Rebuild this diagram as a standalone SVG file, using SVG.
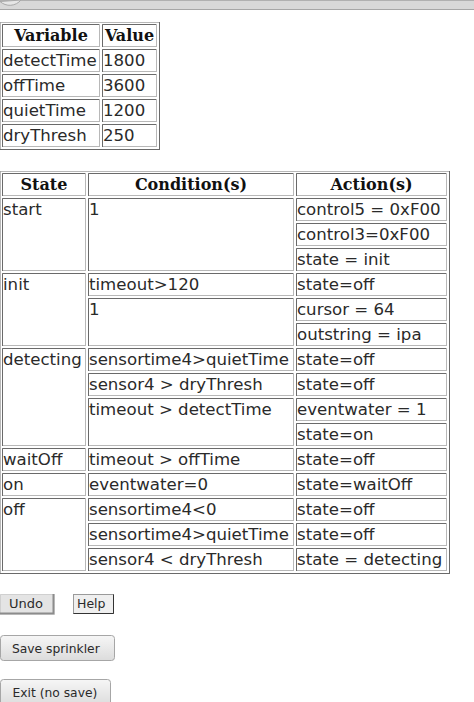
<svg xmlns="http://www.w3.org/2000/svg" width="474" height="702" viewBox="0 0 474 702">
<style>
.c{fill:none;stroke:#b8b8b8;stroke-width:1}
.d{fill:none;stroke:#6a6a6a;stroke-width:1}
.t{font-family:"DejaVu Sans",sans-serif;font-size:16.6px;fill:#2a2a2a}
.h{font-family:"DejaVu Serif",serif;font-weight:bold;font-size:16px;fill:#111;text-anchor:middle}
.b{font-family:"DejaVu Sans",sans-serif;fill:#2a2a2a}
</style>
<defs>
<linearGradient id="g" x1="0" y1="0" x2="0" y2="1">
<stop offset="0" stop-color="#f6f6f6"/>
<stop offset="1" stop-color="#dcdcdc"/>
</linearGradient>
</defs>
<rect width="474" height="702" fill="#fff"/>
<g id="topbar">
<rect x="0" y="0" width="474" height="9.5" fill="#d8d8d8"/>
<line x1="0" y1="0.5" x2="474" y2="0.5" stroke="#b0b0b0"/>
<line x1="0" y1="9.5" x2="474" y2="9.5" stroke="#a6a6a6"/>
<path d="M0 1.5 A14.5 14.5 0 0 0 21 0 Z" fill="#e6e6e6" stroke="#a8a8a8"/>
</g>

<g id="vartable">
<rect x="0.5" y="22.5" width="159" height="127" class="d"/>
<path d="M0.5 149 V22.5 H159" class="c"/>
<g id="v-h1"><rect x="2.5" y="24.5" width="97" height="22" class="c"/><path d="M2.5 47 V24.5 H99" class="d"/><text x="51" y="41" class="h">Variable</text></g>
<g id="v-h2"><rect x="102.5" y="24.5" width="54" height="22" class="c"/><path d="M102.5 47 V24.5 H156" class="d"/><text x="129.5" y="41" class="h">Value</text></g>
<g id="v-r1a"><rect x="2.5" y="49.5" width="97" height="22" class="c"/><path d="M2.5 72 V49.5 H99" class="d"/><text x="3" y="66" class="t">detectTime</text></g>
<g id="v-r1b"><rect x="102.5" y="49.5" width="54" height="22" class="c"/><path d="M102.5 72 V49.5 H156" class="d"/><text x="103" y="66" class="t">1800</text></g>
<g id="v-r2a"><rect x="2.5" y="74.5" width="97" height="22" class="c"/><path d="M2.5 97 V74.5 H99" class="d"/><text x="3" y="91" class="t">offTime</text></g>
<g id="v-r2b"><rect x="102.5" y="74.5" width="54" height="22" class="c"/><path d="M102.5 97 V74.5 H156" class="d"/><text x="103" y="91" class="t">3600</text></g>
<g id="v-r3a"><rect x="2.5" y="99.5" width="97" height="22" class="c"/><path d="M2.5 122 V99.5 H99" class="d"/><text x="3" y="116" class="t">quietTime</text></g>
<g id="v-r3b"><rect x="102.5" y="99.5" width="54" height="22" class="c"/><path d="M102.5 122 V99.5 H156" class="d"/><text x="103" y="116" class="t">1200</text></g>
<g id="v-r4a"><rect x="2.5" y="124.5" width="97" height="22" class="c"/><path d="M2.5 147 V124.5 H99" class="d"/><text x="3" y="141" class="t">dryThresh</text></g>
<g id="v-r4b"><rect x="102.5" y="124.5" width="54" height="22" class="c"/><path d="M102.5 147 V124.5 H156" class="d"/><text x="103" y="141" class="t">250</text></g>
</g>

<g id="statetable">
<rect x="0.5" y="171.5" width="449" height="402" class="d"/>
<path d="M0.5 573 V171.5 H449" class="c"/>
<g id="s-h1"><rect x="2.5" y="173.5" width="83" height="22" class="c"/><path d="M2.5 196 V173.5 H85" class="d"/><text x="44" y="190" class="h">State</text></g>
<g id="s-h2"><rect x="88.5" y="173.5" width="205" height="22" class="c"/><path d="M88.5 196 V173.5 H293" class="d"/><text x="191" y="190" class="h">Condition(s)</text></g>
<g id="s-h3"><rect x="296.5" y="173.5" width="150" height="22" class="c"/><path d="M296.5 196 V173.5 H446" class="d"/><text x="371.5" y="190" class="h">Action(s)</text></g>

<g id="st-start"><rect x="2.5" y="198.5" width="83" height="72" class="c"/><path d="M2.5 271 V198.5 H85" class="d"/><text x="3" y="214.5" class="t">start</text></g>
<g id="c-start"><rect x="88.5" y="198.5" width="205" height="72" class="c"/><path d="M88.5 271 V198.5 H293" class="d"/><text x="89" y="214.5" class="t">1</text></g>
<g id="a-0"><rect x="296.5" y="198.5" width="150" height="22" class="c"/><path d="M296.5 221 V198.5 H446" class="d"/><text x="297" y="214.5" class="t">control5 = 0xF00</text></g>
<g id="a-1"><rect x="296.5" y="223.5" width="150" height="22" class="c"/><path d="M296.5 246 V223.5 H446" class="d"/><text x="297" y="239.5" class="t">control3=0xF00</text></g>
<g id="a-2"><rect x="296.5" y="248.5" width="150" height="22" class="c"/><path d="M296.5 271 V248.5 H446" class="d"/><text x="297" y="264.5" class="t">state = init</text></g>

<g id="st-init"><rect x="2.5" y="273.5" width="83" height="72" class="c"/><path d="M2.5 346 V273.5 H85" class="d"/><text x="3" y="289.5" class="t">init</text></g>
<g id="c-3"><rect x="88.5" y="273.5" width="205" height="22" class="c"/><path d="M88.5 296 V273.5 H293" class="d"/><text x="89" y="289.5" class="t">timeout&gt;120</text></g>
<g id="a-3"><rect x="296.5" y="273.5" width="150" height="22" class="c"/><path d="M296.5 296 V273.5 H446" class="d"/><text x="297" y="289.5" class="t">state=off</text></g>
<g id="c-4"><rect x="88.5" y="298.5" width="205" height="47" class="c"/><path d="M88.5 346 V298.5 H293" class="d"/><text x="89" y="314.5" class="t">1</text></g>
<g id="a-4"><rect x="296.5" y="298.5" width="150" height="22" class="c"/><path d="M296.5 321 V298.5 H446" class="d"/><text x="297" y="314.5" class="t">cursor = 64</text></g>
<g id="a-5"><rect x="296.5" y="323.5" width="150" height="22" class="c"/><path d="M296.5 346 V323.5 H446" class="d"/><text x="297" y="339.5" class="t">outstring = ipa</text></g>

<g id="st-detecting"><rect x="2.5" y="348.5" width="83" height="97" class="c"/><path d="M2.5 446 V348.5 H85" class="d"/><text x="3" y="364.5" class="t">detecting</text></g>
<g id="c-6"><rect x="88.5" y="348.5" width="205" height="22" class="c"/><path d="M88.5 371 V348.5 H293" class="d"/><text x="89" y="364.5" class="t">sensortime4&gt;quietTime</text></g>
<g id="a-6"><rect x="296.5" y="348.5" width="150" height="22" class="c"/><path d="M296.5 371 V348.5 H446" class="d"/><text x="297" y="364.5" class="t">state=off</text></g>
<g id="c-7"><rect x="88.5" y="373.5" width="205" height="22" class="c"/><path d="M88.5 396 V373.5 H293" class="d"/><text x="89" y="389.5" class="t">sensor4 &gt; dryThresh</text></g>
<g id="a-7"><rect x="296.5" y="373.5" width="150" height="22" class="c"/><path d="M296.5 396 V373.5 H446" class="d"/><text x="297" y="389.5" class="t">state=off</text></g>
<g id="c-8"><rect x="88.5" y="398.5" width="205" height="47" class="c"/><path d="M88.5 446 V398.5 H293" class="d"/><text x="89" y="414.5" class="t">timeout &gt; detectTime</text></g>
<g id="a-8"><rect x="296.5" y="398.5" width="150" height="22" class="c"/><path d="M296.5 421 V398.5 H446" class="d"/><text x="297" y="414.5" class="t">eventwater = 1</text></g>
<g id="a-9"><rect x="296.5" y="423.5" width="150" height="22" class="c"/><path d="M296.5 446 V423.5 H446" class="d"/><text x="297" y="439.5" class="t">state=on</text></g>

<g id="st-waitOff"><rect x="2.5" y="448.5" width="83" height="22" class="c"/><path d="M2.5 471 V448.5 H85" class="d"/><text x="3" y="464.5" class="t">waitOff</text></g>
<g id="c-10"><rect x="88.5" y="448.5" width="205" height="22" class="c"/><path d="M88.5 471 V448.5 H293" class="d"/><text x="89" y="464.5" class="t">timeout &gt; offTime</text></g>
<g id="a-10"><rect x="296.5" y="448.5" width="150" height="22" class="c"/><path d="M296.5 471 V448.5 H446" class="d"/><text x="297" y="464.5" class="t">state=off</text></g>

<g id="st-on"><rect x="2.5" y="473.5" width="83" height="22" class="c"/><path d="M2.5 496 V473.5 H85" class="d"/><text x="3" y="489.5" class="t">on</text></g>
<g id="c-11"><rect x="88.5" y="473.5" width="205" height="22" class="c"/><path d="M88.5 496 V473.5 H293" class="d"/><text x="89" y="489.5" class="t">eventwater=0</text></g>
<g id="a-11"><rect x="296.5" y="473.5" width="150" height="22" class="c"/><path d="M296.5 496 V473.5 H446" class="d"/><text x="297" y="489.5" class="t">state=waitOff</text></g>

<g id="st-off"><rect x="2.5" y="498.5" width="83" height="72" class="c"/><path d="M2.5 571 V498.5 H85" class="d"/><text x="3" y="514.5" class="t">off</text></g>
<g id="c-12"><rect x="88.5" y="498.5" width="205" height="22" class="c"/><path d="M88.5 521 V498.5 H293" class="d"/><text x="89" y="514.5" class="t">sensortime4&lt;0</text></g>
<g id="a-12"><rect x="296.5" y="498.5" width="150" height="22" class="c"/><path d="M296.5 521 V498.5 H446" class="d"/><text x="297" y="514.5" class="t">state=off</text></g>
<g id="c-13"><rect x="88.5" y="523.5" width="205" height="22" class="c"/><path d="M88.5 546 V523.5 H293" class="d"/><text x="89" y="539.5" class="t">sensortime4&gt;quietTime</text></g>
<g id="a-13"><rect x="296.5" y="523.5" width="150" height="22" class="c"/><path d="M296.5 546 V523.5 H446" class="d"/><text x="297" y="539.5" class="t">state=off</text></g>
<g id="c-14"><rect x="88.5" y="548.5" width="205" height="22" class="c"/><path d="M88.5 571 V548.5 H293" class="d"/><text x="89" y="564.5" class="t">sensor4 &lt; dryThresh</text></g>
<g id="a-14"><rect x="296.5" y="548.5" width="150" height="22" class="c"/><path d="M296.5 571 V548.5 H446" class="d"/><text x="297" y="564.5" class="t">state = detecting</text></g>
</g>

<g id="connectors"></g>

<g id="btn-undo">
<rect x="0" y="594" width="55" height="21" fill="#e4e4e4"/>
<path d="M0.5 614 V594.5 H53" fill="none" stroke="#d0d0d0"/>
<path d="M53.5 594 V613.5 H0" fill="none" stroke="#8c8c8c" stroke-width="2"/>
<text x="9" y="607.5" class="b" font-size="13">Undo</text>
</g>
<g id="btn-help">
<rect x="73.5" y="594.5" width="40" height="19" fill="#efefef" stroke="#9a9a9a"/>
<path d="M113.5 594.5 V613.5 H73.5" fill="none" stroke="#333"/>
<text x="77" y="608" class="b" font-size="12.5">Help</text>
</g>
<g id="btn-save">
<rect x="0.5" y="635.5" width="114" height="25" rx="3" fill="url(#g)" stroke="#a6a6a6"/>
<text x="12" y="653" class="b" font-size="12.3">Save sprinkler</text>
</g>
<g id="btn-exit">
<rect x="0.5" y="679.5" width="110" height="26" rx="3" fill="url(#g)" stroke="#a6a6a6"/>
<text x="12.5" y="696.5" class="b" font-size="12.3">Exit (no save)</text>
</g>
</svg>
